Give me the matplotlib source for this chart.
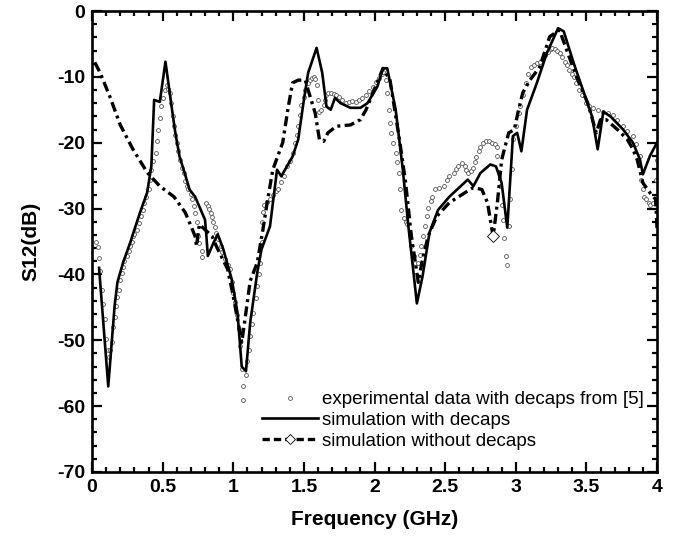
import matplotlib
matplotlib.use("Agg")
import matplotlib.pyplot as plt
from matplotlib.lines import Line2D

plt.rcParams['font.family'] = ['Liberation Sans', 'DejaVu Sans']
plt.rcParams['axes.unicode_minus'] = False

# ---- data ----
exp_f = [0.03, 0.04, 0.05, 0.06, 0.07, 0.08, 0.09, 0.10, 0.11, 0.12, 0.13, 0.14, 0.15, 0.16, 0.17, 0.18, 0.19,
         0.20, 0.21, 0.22, 0.23, 0.25, 0.26, 0.27, 0.28, 0.29, 0.30, 0.32, 0.33, 0.35, 0.36, 0.37, 0.38, 0.40,
         0.41, 0.42, 0.43, 0.45, 0.46, 0.47, 0.48, 0.49, 0.50, 0.52, 0.53, 0.54, 0.55, 0.56, 0.57, 0.58, 0.59,
         0.60, 0.61, 0.62, 0.64, 0.65, 0.66, 0.67, 0.68, 0.70, 0.71, 0.72, 0.73, 0.74, 0.75, 0.76, 0.78, 0.78,
         0.81, 0.82, 0.83, 0.84, 0.85, 0.86, 0.87, 0.88, 0.89, 0.91, 0.92, 0.94, 0.96, 0.98, 0.99, 1.00, 1.01,
         1.03, 1.04, 1.05, 1.06, 1.07, 1.07, 1.09, 1.10, 1.11, 1.12, 1.13, 1.14, 1.16, 1.17, 1.18, 1.19, 1.20,
         1.20, 1.21, 1.22, 1.24, 1.26, 1.28, 1.30, 1.32, 1.34, 1.36, 1.38, 1.40, 1.42, 1.44, 1.45, 1.46, 1.47,
         1.48, 1.50, 1.51, 1.53, 1.54, 1.56, 1.57, 1.58, 1.59, 1.60, 1.61, 1.62, 1.64, 1.65, 1.66, 1.67, 1.69,
         1.71, 1.73, 1.75, 1.77, 1.80, 1.82, 1.84, 1.87, 1.89, 1.91, 1.94, 1.96, 1.99, 2.01, 2.03, 2.05, 2.06,
         2.08, 2.09, 2.10, 2.11, 2.12, 2.13, 2.15, 2.16, 2.17, 2.18, 2.19, 2.21, 2.22, 2.23, 2.25, 2.26, 2.28,
         2.29, 2.31, 2.32, 2.33, 2.34, 2.36, 2.37, 2.38, 2.40, 2.41, 2.43, 2.46, 2.49, 2.51, 2.53, 2.56, 2.58,
         2.59, 2.62, 2.64, 2.65, 2.66, 2.68, 2.70, 2.71, 2.72, 2.74, 2.75, 2.77, 2.79, 2.81, 2.83, 2.85, 2.87,
         2.87, 2.88, 2.89, 2.90, 2.91, 2.92, 2.93, 2.94, 2.95, 2.96, 2.97, 2.98, 3.00, 3.02, 3.03, 3.05, 3.07,
         3.09, 3.11, 3.13, 3.15, 3.17, 3.19, 3.21, 3.23, 3.25, 3.26, 3.28, 3.29, 3.31, 3.33, 3.35, 3.36, 3.38,
         3.40, 3.41, 3.43, 3.45, 3.47, 3.50, 3.52, 3.55, 3.58, 3.62, 3.65, 3.69, 3.72, 3.76, 3.79, 3.83, 3.85,
         3.88, 3.89, 3.90, 3.91, 3.92, 3.94, 3.95, 3.97, 3.99, 4.00]
exp_db = [-35.0, -35.8, -37.5, -39.5, -42.3, -44.5, -46.8, -49.8, -51.5, -52.6, -51.5, -50.3, -48.0, -46.4, -44.8,
          -43.5, -42.3, -40.8, -39.8, -38.8, -38.0, -37.2, -36.4, -35.7, -35.0, -34.2, -33.8, -33.2, -32.2, -31.2,
          -30.2, -29.1, -28.2, -27.1, -25.6, -24.1, -22.8, -21.5, -19.8, -18.0, -16.2, -14.5, -13.2, -12.0, -11.2,
          -11.8, -12.5, -14.0, -16.0, -17.5, -18.8, -20.0, -21.3, -22.6, -23.8, -24.6, -25.8, -26.6, -27.1, -27.8,
          -28.6, -29.6, -30.6, -32.1, -34.2, -35.2, -36.5, -37.4, -29.1, -29.6, -30.1, -30.6, -31.3, -32.0, -32.8,
          -33.7, -34.6, -35.7, -36.6, -37.7, -38.5, -39.2, -41.2, -42.8, -44.2, -46.2, -48.3, -50.9, -54.4, -57.0,
          -59.0, -55.2, -53.2, -51.4, -49.4, -47.6, -45.8, -43.6, -41.8, -40.0, -38.2, -35.0, -32.0, -30.5, -29.5,
          -29.0, -28.6, -28.0, -27.4, -27.1, -26.0, -25.0, -23.6, -22.8, -21.5, -20.0, -18.8, -17.5, -15.8, -14.2,
          -13.0, -12.0, -11.0, -10.5, -10.2, -10.0, -10.4, -11.2, -13.5, -15.3, -15.0, -14.2, -13.5, -12.8, -12.4,
          -12.4, -12.6, -12.7, -13.0, -13.5, -14.0, -13.8, -13.6, -13.8, -13.5, -13.2, -12.7, -12.2, -11.5, -10.8,
          -10.2, -9.5, -9.2, -10.5, -12.4, -15.0, -17.0, -18.5, -20.0, -21.5, -23.0, -24.6, -27.0, -30.2, -31.5,
          -32.1, -32.4, -34.0, -35.7, -37.2, -38.3, -38.2, -37.0, -35.7, -34.2, -32.7, -31.2, -29.9, -28.8, -28.2,
          -27.1, -26.9, -26.6, -25.6, -25.0, -24.6, -24.0, -23.6, -23.1, -23.6, -24.2, -24.6, -24.3, -23.8, -23.0,
          -22.1, -21.2, -20.6, -20.0, -19.8, -19.8, -20.0, -20.2, -20.6, -22.0, -24.5, -26.6, -29.5, -31.7, -34.5,
          -37.2, -38.6, -32.7, -28.6, -24.0, -19.5, -17.5, -15.5, -14.5, -12.8, -11.0, -9.6, -8.5, -8.2, -7.9,
          -7.7, -7.2, -6.7, -6.2, -5.8, -5.6, -5.8, -6.1, -6.4, -7.0, -7.8, -8.2, -9.0, -9.6, -10.0, -11.0, -12.0,
          -12.8, -14.0, -14.4, -14.7, -15.0, -15.3, -15.5, -15.8, -16.6, -17.5, -18.2, -19.0, -20.2, -22.0, -25.6,
          -27.1, -28.2, -28.6, -29.1, -29.4, -29.1, -25.6, -22.6]

sim_f = [0.05, 0.115, 0.16, 0.18, 0.22, 0.27, 0.30, 0.34, 0.39, 0.42, 0.44, 0.48, 0.52, 0.57, 0.59, 0.62,
         0.67, 0.69, 0.73, 0.80, 0.81, 0.82, 0.86, 0.89, 0.93, 0.99, 1.03, 1.06, 1.09, 1.12, 1.17, 1.20, 1.26,
         1.31, 1.34, 1.42, 1.46, 1.50, 1.53, 1.59, 1.63, 1.66, 1.69, 1.72, 1.76, 1.83, 1.90, 1.95, 2.02, 2.06,
         2.09, 2.15, 2.20, 2.24, 2.30, 2.34, 2.39, 2.45, 2.53, 2.66, 2.70, 2.75, 2.82, 2.86, 2.90, 2.94, 2.98,
         3.01, 3.04, 3.08, 3.15, 3.22, 3.30, 3.34, 3.41, 3.50, 3.54, 3.58, 3.62, 3.67, 3.76, 3.83, 3.88, 3.90,
         3.95, 4.00]
sim_db = [-39.0, -57.0, -44.8, -41.2, -38.2, -35.2, -33.2, -30.6, -27.6, -23.6, -13.5, -13.8, -7.7, -15.5,
          -18.5, -22.1, -25.6, -27.1, -28.2, -31.7, -34.2, -37.2, -35.2, -33.9, -36.2, -40.8, -45.8, -54.0,
          -54.7, -47.3, -39.7, -36.2, -32.7, -24.1, -25.1, -22.1, -19.5, -13.5, -9.4, -5.6, -9.4, -14.5, -15.0,
          -13.2, -14.0, -14.7, -14.7, -14.0, -11.5, -8.7, -8.7, -15.0, -24.0, -32.7, -44.4, -40.3, -33.6, -30.2,
          -28.2, -25.6, -26.6, -24.6, -23.3, -23.6, -26.1, -32.9, -19.0, -18.5, -21.3, -15.0, -10.9, -6.4, -2.6,
          -3.1, -7.9, -13.5, -16.0, -21.0, -15.3, -16.0, -18.0, -20.0, -22.6, -24.8, -22.0, -20.0]

nodecap_f = [0.02, 0.06, 0.13, 0.20, 0.29, 0.39, 0.48, 0.58, 0.66, 0.69, 0.73, 0.74, 0.76, 0.85, 0.88, 0.96,
             1.00, 1.06, 1.08, 1.12, 1.17, 1.21, 1.24, 1.28, 1.35, 1.39, 1.42, 1.46, 1.51, 1.53, 1.58, 1.61,
             1.64, 1.67, 1.73, 1.83, 1.90, 1.94, 2.06, 2.11, 2.18, 2.22, 2.26, 2.31, 2.34, 2.38, 2.44, 2.53,
             2.64, 2.70, 2.76, 2.80, 2.82, 2.84, 2.87, 2.90, 2.95, 2.99, 3.02, 3.05, 3.10, 3.17, 3.24, 3.31,
             3.36, 3.43, 3.51, 3.57, 3.60, 3.64, 3.72, 3.79, 3.83, 3.86, 3.90, 3.95, 3.99, 4.00]
nodecap_db = [-7.8, -9.5, -13.2, -17.3, -21.0, -24.5, -26.6, -28.2, -30.6, -32.1, -34.2, -35.7, -32.4, -34.2,
              -35.7, -39.2, -43.3, -50.3, -47.3, -41.0, -38.2, -33.2, -29.1, -24.1, -20.0, -14.5, -10.9, -10.5,
              -10.5, -12.0, -15.5, -19.5, -19.8, -18.5, -17.5, -17.3, -16.5, -15.0, -8.7, -10.5, -20.0, -26.0,
              -34.0, -41.2, -37.7, -34.2, -31.2, -29.1, -27.6, -26.8, -27.1, -29.1, -31.7, -34.2, -29.1, -22.6,
              -18.5, -18.0, -15.0, -12.4, -10.5, -8.5, -3.9, -2.9, -5.9, -10.0, -14.0, -18.5, -16.5, -16.5, -18.0,
              -19.5, -21.0, -22.6, -26.1, -27.6, -28.6, -33.0]
diamond_at = [53]

labels = ['experimental data with decaps from [5]', 'simulation with decaps', 'simulation without decaps']

# ---- figure ----
fig = plt.figure(figsize=(6.82, 5.37), dpi=100)
ax = fig.add_axes([92/682, 1 - 472/537, (657-92)/682, (472-11)/537])

ax.plot(exp_f, exp_db, linestyle='none', marker='o', markersize=2.8, markerfacecolor='white',
        markeredgecolor='#555555', markeredgewidth=0.6, zorder=2)
ax.plot(sim_f, sim_db, color='black', linewidth=1.9, zorder=3)
ax.plot(nodecap_f, nodecap_db, color='black', linewidth=2.4, dashes=(3.0, 1.3, 0.9, 1.3),
        marker='D', markevery=diamond_at, markersize=6, markerfacecolor='white',
        markeredgecolor='black', markeredgewidth=0.6, zorder=4)

ax.set_xlim(0, 4)
ax.set_ylim(-70, 0)
ax.set_xticks([0, 0.5, 1, 1.5, 2, 2.5, 3, 3.5, 4])
ax.set_xticklabels(['0', '0.5', '1', '1.5', '2', '2.5', '3', '3.5', '4'])
ax.set_xticks([i * 0.1 for i in range(41)], minor=True)
ax.set_yticks([0, -10, -20, -30, -40, -50, -60, -70])
ax.set_yticklabels(['0', '-10', '-20', '-30', '-40', '-50', '-60', '-70'])
ax.set_yticks([-2 * i for i in range(36)], minor=True)

ax.tick_params(which='both', direction='in', top=True, right=True, width=1.6, labelsize=14, pad=5)
ax.tick_params(which='major', length=7.5)
ax.tick_params(which='minor', length=3.8)
for lbl in ax.get_xticklabels() + ax.get_yticklabels():
    lbl.set_fontweight('bold')
for sp in ax.spines.values():
    sp.set_linewidth(1.9)

ax.set_xlabel('Frequency (GHz)', fontsize=15, fontweight='bold', labelpad=10)
ax.set_ylabel('S12(dB)', fontsize=15, fontweight='bold', labelpad=12)

handles = [
    Line2D([], [], linestyle='none', marker='o', markersize=2.8, markerfacecolor='white',
           markeredgecolor='#555555', markeredgewidth=0.6),
    Line2D([], [], color='black', linewidth=1.9),
    Line2D([], [], color='black', linewidth=2.4, dashes=(2.2, 1.2), marker='D', markersize=5,
           markerfacecolor='white', markeredgecolor='black', markeredgewidth=0.6),
]
fig.legend(handles, labels, loc='upper left', bbox_to_anchor=(262/682, 1 - 391/537),
           frameon=False, fontsize=13.5, handlelength=3.0, handletextpad=0.2, labelspacing=0.2,
           borderpad=0, borderaxespad=0, numpoints=1)

fig.savefig('out.png', dpi=100)
